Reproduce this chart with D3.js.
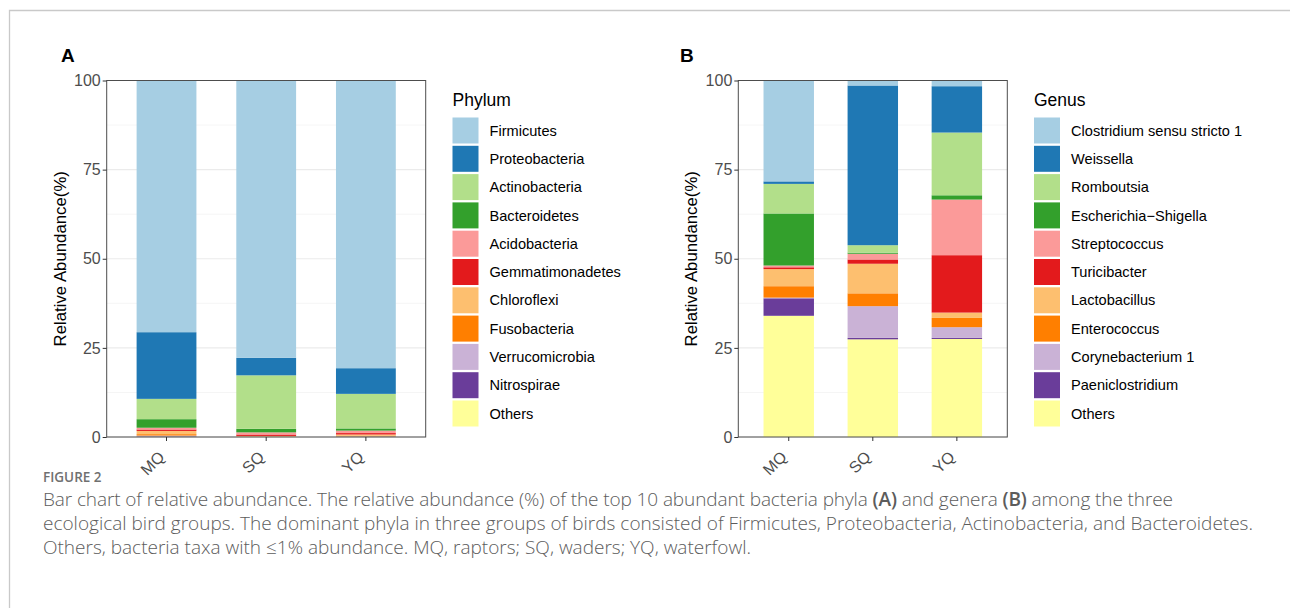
<!DOCTYPE html>
<html>
<head>
<meta charset="utf-8">
<script src="https://cdn.jsdelivr.net/npm/d3@7"></script>
<style>
body{margin:0;background:#fff;}
svg{display:block;}
</style>
</head>
<body>
<svg id="fig" width="1290" height="608"></svg>
<script>
// groups and taxa
const groups = ["MQ", "SQ", "YQ"];
const phyla = ["Firmicutes", "Proteobacteria", "Actinobacteria", "Bacteroidetes", "Acidobacteria",
  "Gemmatimonadetes", "Chloroflexi", "Fusobacteria", "Verrucomicrobia", "Nitrospirae", "Others"];
const genera = ["Clostridium sensu stricto 1", "Weissella", "Romboutsia", "Escherichia\u2212Shigella",
  "Streptococcus", "Turicibacter", "Lactobacillus", "Enterococcus", "Corynebacterium 1",
  "Paeniclostridium", "Others"];

// relative abundance (%) in the same order as the taxa above
const phylumMQ = [70.6, 18.7, 5.7, 2.4, 0.5, 0.4, 0.9, 0.4, 0.2, 0.1, 0.1];
const phylumSQ = [77.8, 4.9, 15.0, 1.0, 0.6, 0.4, 0.15, 0.05, 0.03, 0.02, 0.05];
const phylumYQ = [80.7, 7.2, 9.7, 0.6, 0.7, 0.4, 0.3, 0.2, 0.05, 0.05, 0.1];

const genusMQ = [28.3, 0.7, 8.3, 14.6, 0.5, 0.5, 4.8, 3.2, 0.2, 4.9, 34.0];
const genusSQ = [1.4, 44.8, 2.1, 0.3, 1.6, 1.2, 8.3, 3.6, 8.9, 0.4, 27.4];
const genusYQ = [1.6, 13.0, 17.6, 1.2, 15.6, 16.1, 1.5, 2.6, 3.0, 0.3, 27.5];

const yTicks = [0, 25, 50, 75, 100];

const captionHead = "FIGURE 2";
const captionLines = [
  "Bar chart of relative abundance. The relative abundance (%) of the top 10 abundant bacteria phyla (A) and genera (B) among the three",
  "ecological bird groups. The dominant phyla in three groups of birds consisted of Firmicutes, Proteobacteria, Actinobacteria, and Bacteroidetes.",
  "Others, bacteria taxa with \u22641% abundance. MQ, raptors; SQ, waders; YQ, waterfowl."
];

const svg = d3.select('#fig');
const font = "'Liberation Sans', Arial, sans-serif";

// outer frame of the figure
svg.append("path")
  .attr("d", "M9.5,608 V10.5 H1290")
  .attr("fill", "none")
  .attr("stroke", "#c9c9c9")
  .attr("stroke-width", 1.3);

function panel(opt){
  const g = svg.append("g");
  const top = 80.5, bottom = 437;
  const x = d3.scaleBand().domain(groups)
    .range([opt.left, opt.right]).paddingInner(0.4).paddingOuter(0.3);
  const y = d3.scaleLinear().domain([0, 100]).range([bottom, top]);

  // build rows for stack
  const rows = groups.map((grp, i) => {
    const r = {group: grp};
    opt.keys.forEach((k, j) => r[k] = opt.values[i][j]);
    return r;
  });
  const color = d3.scaleOrdinal().domain(opt.keys).range(d3.schemePaired);
  // Others at the bottom, first taxon on top
  const stack = d3.stack().keys(opt.keys.slice().reverse());
  const series = stack(rows);

  // grid
  const minor = [12.5, 37.5, 62.5, 87.5];
  g.selectAll(".minor").data(minor).enter().append("line")
    .attr("x1", opt.left).attr("x2", opt.right)
    .attr("y1", d => y(d)).attr("y2", d => y(d))
    .attr("stroke", "#f2f2f2").attr("stroke-width", 0.8);
  g.selectAll(".major").data(yTicks).enter().append("line")
    .attr("x1", opt.left).attr("x2", opt.right)
    .attr("y1", d => y(d)).attr("y2", d => y(d))
    .attr("stroke", "#ebebeb").attr("stroke-width", 1.2);

  // bars
  g.selectAll(".layer").data(series).enter().append("g")
    .attr("fill", d => color(d.key))
    .selectAll("rect").data(d => d).enter().append("rect")
    .attr("x", d => x(d.data.group))
    .attr("width", x.bandwidth())
    .attr("y", d => y(d[1]))
    .attr("height", d => Math.max(0, y(d[0]) - y(d[1])));

  // border
  g.append("rect")
    .attr("x", opt.left).attr("y", top)
    .attr("width", opt.right - opt.left).attr("height", bottom - top)
    .attr("fill", "none").attr("stroke", "#4d4d4d").attr("stroke-width", 1);

  // y axis
  const yAxis = g.append("g")
    .attr("transform", `translate(${opt.left},0)`)
    .call(d3.axisLeft(y).tickValues(yTicks).tickSize(4).tickPadding(2));
  yAxis.select(".domain").remove();
  yAxis.selectAll(".tick line").attr("stroke", "#333");
  yAxis.selectAll("text")
    .style("font-family", font).style("font-size", "16px").attr("fill", "#4d4d4d");

  // x axis
  const xAxis = g.append("g")
    .attr("transform", `translate(0,${bottom})`)
    .call(d3.axisBottom(x).tickSize(4).tickPadding(2));
  xAxis.select(".domain").remove();
  xAxis.selectAll(".tick line").attr("stroke", "#333");
  xAxis.selectAll("text")
    .style("font-family", font).style("font-size", "16px").attr("fill", "#4d4d4d")
    .attr("text-anchor", "end")
    .attr("dy", null).attr("y", null)
    .attr("transform", "translate(-1,21) rotate(-45)");

  // y title
  g.append("text")
    .attr("transform", `translate(${opt.left - 41},${(top + bottom) / 2}) rotate(-90)`)
    .attr("text-anchor", "middle")
    .style("font-family", font).style("font-size", "16.8px")
    .text("Relative Abundance(%)");

  // panel tag
  g.append("text")
    .attr("x", opt.tagX).attr("y", 62)
    .style("font-family", font).style("font-size", "19px").style("font-weight", "bold")
    .text(opt.tag);

  // legend
  const lg = g.append("g").attr("transform", `translate(${opt.legendX},0)`);
  lg.append("text").attr("x", 0).attr("y", 106)
    .style("font-family", font).style("font-size", "17.5px")
    .text(opt.title);
  const item = lg.selectAll(".item").data(opt.keys).enter().append("g")
    .attr("transform", (d, i) => `translate(0,${117.5 + i * 28.3})`);
  item.append("rect")
    .attr("width", 26).attr("height", 26)
    .attr("fill", d => color(d));
  item.append("text")
    .attr("x", 37).attr("y", 13).attr("dy", "0.35em")
    .style("font-family", font).style("font-size", "14.6px")
    .text(d => d);
}

panel({left: 106.7, right: 425.7, keys: phyla, values: [phylumMQ, phylumSQ, phylumYQ],
  title: "Phylum", tag: "A", tagX: 61, legendX: 452.5});
panel({left: 738.3, right: 1007.3, keys: genera, values: [genusMQ, genusSQ, genusYQ],
  title: "Genus", tag: "B", tagX: 680, legendX: 1034});

// caption
const capFont = "'Open Sans', 'Lato', sans-serif";
svg.append("text")
  .attr("x", 43).attr("y", 482)
  .style("font-family", capFont).style("font-size", "13.5px").style("font-weight", 600)
  .attr("fill", "#707070")
  .text(captionHead);

const capWidths = [1130, 1210, 708];
const capText = svg.selectAll(".cap").data(captionLines).enter().append("text")
  .attr("class", "cap")
  .attr("x", 43).attr("y", (d, i) => 506 + i * 24)
  .style("font-family", capFont).style("font-size", "17px").style("font-weight", 300)
  .attr("fill", "#5c5c5c")
  .each(function(d){
    const t = d3.select(this);
    // bold panel references on the first line
    d.split(/(\(A\)|\(B\))/).forEach(p => {
      const s = t.append("tspan").text(p);
      if (p === "(A)" || p === "(B)") s.style("font-weight", 600);
    });
  });
// one size for every caption line, fitted on the longest line, then small spacing fix
const w2 = capText.nodes()[1].getComputedTextLength();
capText.style("font-size", (17 * 1210 / w2) + "px")
  .attr("textLength", (d, i) => capWidths[i])
  .attr("lengthAdjust", "spacing");
</script>
</body>
</html>
